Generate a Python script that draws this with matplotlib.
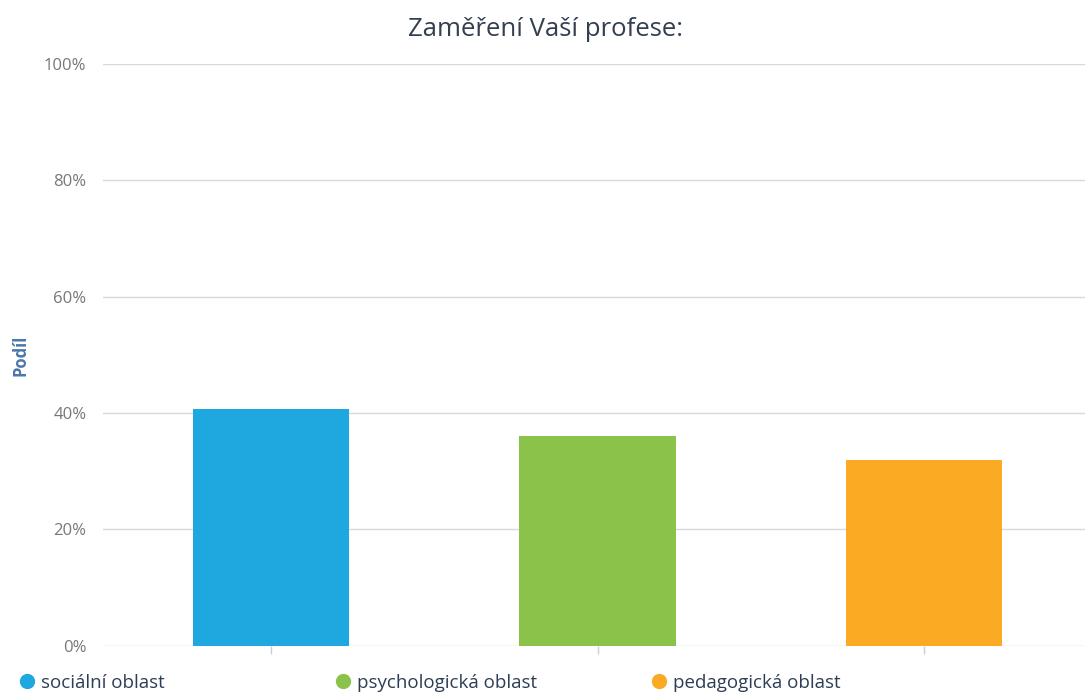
import numpy as np
import matplotlib.pyplot as plt
from matplotlib.lines import Line2D
from matplotlib.ticker import FuncFormatter

# data
categories = ["sociální oblast", "psychologická oblast", "pedagogická oblast"]
values = [40.7, 36.0, 31.9]
colors = ["#1fa8e0", "#8bc34a", "#fbaa23"]
yticks = [0, 20, 40, 60, 80, 100]

plt.rcParams['font.family'] = ['Open Sans', 'DejaVu Sans']

W, H = 1085, 695
fig = plt.figure(figsize=(W / 100, H / 100), dpi=100)
ax = fig.add_axes([103 / W, (H - 645.7) / H, (1085 - 103) / W, (645.7 - 64) / H])

x = np.arange(len(categories))
ax.bar(x, values, width=0.48, color=colors, zorder=3)

ax.set_ylim(0, 100)
ax.set_xlim(-0.515, 2.493)
ax.set_yticks(yticks)
ax.yaxis.set_major_formatter(FuncFormatter(lambda v, p: f"{v:.0f}%"))
ax.grid(axis='y', color='#d8d8d8', linewidth=1, zorder=0)
for s in ax.spines.values():
    s.set_visible(False)
ax.tick_params(axis='y', length=0, pad=12, labelsize=12, labelcolor='#777777')
ax.set_xticks(x)
ax.set_xticklabels([])
ax.tick_params(axis='x', length=6, width=1, color='#c0d0e0')

ax.set_ylabel("Podíl", fontsize=12, fontweight='bold', color='#4a77aa', labelpad=10)
fig.text(0.5 + 3 / W, 1 - 29 / H, "Zaměření Vaší profese:", ha='center', va='center',
         fontsize=18.5, color='#333f4f')

# legend entries at fixed spacing
legend_x = [8, 324, 640]
for lx, cat, col in zip(legend_x, categories, colors):
    h = Line2D([], [], marker='o', linestyle='', markersize=10, color=col)
    fig.legend([h], [cat], loc='center left', bbox_to_anchor=(lx / W, 1 - 683 / H),
               frameon=False, fontsize=13.5, labelcolor='#2c3e55',
               handletextpad=0.25, borderpad=0, handlelength=1.0)

fig.savefig("out.png", dpi=100)
